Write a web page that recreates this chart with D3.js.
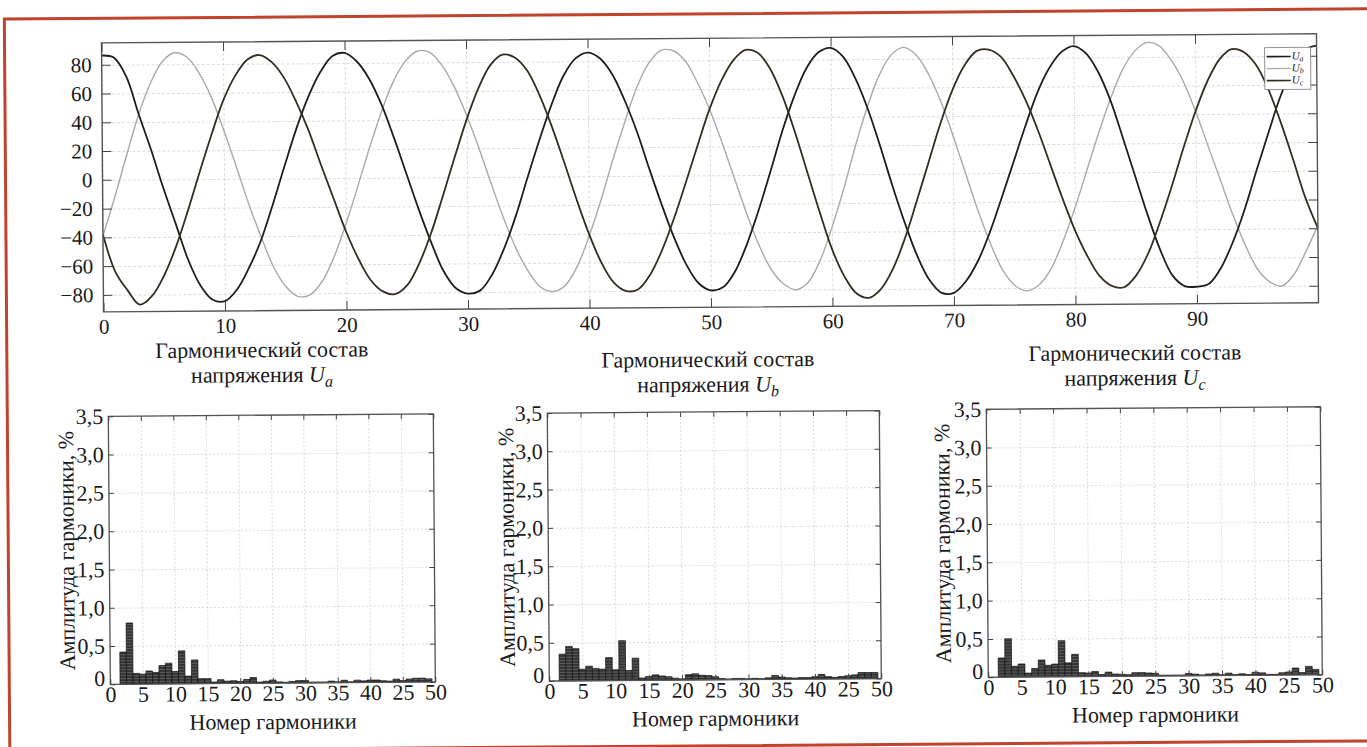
<!DOCTYPE html>
<html>
<head>
<meta charset="utf-8">
<script src="https://cdn.jsdelivr.net/npm/d3@7"></script>
<style>
body{margin:0;background:#fff}
svg{display:block}
svg text{font-family:"Liberation Serif","Tinos","DejaVu Serif","Noto Serif",serif}
</style>
</head>
<body>
<svg id="screen" width="1367" height="747"></svg>
<script>
// waveforms, one sample per unit of time (index = time 0..100)
const uA = [86.5,85,72,46,21,-6,-31,-56,-74,-84,-85,-77,-62,-43,-18,9,35,57,74,85,87,81,69,51,28,3,-22,-45,-65,-77,-81,-79,-68,-50,-27,0,26,50,70,82,86,82,71,53,31,5,-20,-43,-62,-75,-80,-78,-67,-48,-24,3,31,55,74,85,88,82,67,46,20,-8,-34,-57,-74,-83,-83,-75,-61,-41,-17,8,33,56,73,84,88,83,70,50,24,-3,-30,-54,-72,-79.5,-80,-78,-67,-49,-26,1,27,52,71,84,87]
const uB = [-39,-12,17,45,67,82,88,85,74,57,34,9,-17,-40,-61,-75,-82,-81,-72,-55,-32,-6,21,46,67,81,88,87,78,63,43,20,-5,-29,-50,-66,-77,-80,-76,-63,-42,-17,11,37,61,78,87,87,80,65,46,23,-2,-27,-49,-66,-76,-80,-75,-60,-37,-10,20,47,69,83,88,83,70,51,27,1,-25,-48,-67,-78,-82,-78,-67,-48,-25,1,27,51,71,84,90,88,78,63,42,18,-6,-30,-51,-68,-77,-80,-72,-56,-38]
const uC = [-38,-64,-77,-87,-81,-67,-47,-22,5,31,55,72,83,86,81,70,53,33,9,-14,-37,-56,-71,-79,-81,-75,-60,-39,-13,14,40,62,78,85,83,74,57,35,10,-16,-40,-60,-74,-80,-79,-69,-52,-30,-5,21,46,66,80,87,85,74,55,30,2,-26,-52,-71,-83,-86,-80,-66,-45,-19,8,35,58,75,85,86,81,68,51,30,6,-18,-40,-58,-72,-79,-80,-72,-57,-35,-10,17,42,63,78,85,83,74,57,34,8,-19,-40]
const seriesNames = ["a","b","c"]
const seriesColors = ["#1e1e1e","#a9a9a9","#342e20"]

const topXTicks = [0,10,20,30,40,50,60,70,80,90]
const topYTicks = [-80,-60,-40,-20,0,20,40,60,80]

// harmonic amplitudes, %, harmonics 1..50 (index + 1)
const harmA = [0,0.42,0.80,0.14,0.13,0.17,0.15,0.24,0.27,0.16,0.43,0.10,0.31,0.065,0.065,0.02,0.05,0.03,0.035,0.025,0.05,0.075,0.015,0.025,0.04,0.015,0.01,0.02,0.03,0.03,0.01,0.01,0.01,0.02,0.01,0.03,0.01,0.03,0.02,0.03,0.03,0.02,0.015,0.04,0.02,0.04,0.05,0.05,0.04,0]
const harmB = [0,0.35,0.45,0.42,0.15,0.19,0.16,0.15,0.30,0.14,0.52,0.13,0.29,0.03,0.05,0.07,0.055,0.045,0.025,0.015,0.07,0.08,0.06,0.055,0.04,0.015,0.01,0.015,0.015,0.01,0.015,0.01,0.02,0.05,0.03,0.02,0.015,0.02,0.02,0.03,0.06,0.03,0.02,0.03,0.04,0.05,0.08,0.08,0.08,0]
const harmC = [0,0.25,0.50,0.14,0.17,0.05,0.11,0.22,0.15,0.165,0.47,0.18,0.29,0.05,0.045,0.065,0.025,0.055,0.03,0.025,0.02,0.045,0.045,0.04,0.035,0.01,0.01,0.01,0.01,0.03,0.02,0.01,0.02,0.03,0.01,0.03,0.01,0.02,0.01,0.04,0.03,0.01,0.01,0.03,0.04,0.09,0.03,0.11,0.07,0]

const harmXTicks = [0,5,10,15,20,25,30,35,40,45,50]
const harmXLabels = ["0","5","10","15","20","25","30","35","40","25","50"]
const harmYTicks = [0,0.5,1,1.5,2,2.5,3,3.5]
const harmYLabels = ["0","0,5","1,0","1,5","2,0","2,5","3,0","3,5"]

const svg = d3.select("#screen")
// the scanned page is slightly tilted
const root = svg.append("g").attr("transform","rotate(-0.43,684,374)")

const defs = svg.append("defs")
const pat = defs.append("pattern").attr("id","barfill").attr("patternUnits","userSpaceOnUse").attr("width",4).attr("height",3)
pat.append("rect").attr("width",4).attr("height",3).attr("fill","#333")
pat.append("line").attr("x1",0).attr("x2",4).attr("y1",2.5).attr("y2",2.5).attr("stroke","#7a7a7a").attr("stroke-width",0.6)

root.append("rect").attr("x",7).attr("y",14).attr("width",1385).attr("height",732)
    .attr("fill","none").attr("stroke","#c0432e").attr("stroke-width",3)

function styleGrid(g, dash){
    g.select(".domain").remove()
    g.selectAll("line").attr("stroke","#d2d2d2").attr("stroke-width",0.8).attr("stroke-dasharray",dash)
}
function styleAxis(g, size){
    g.attr("font-family",null)
    g.select(".domain").remove()
    g.selectAll("line").attr("stroke","#444").attr("stroke-width",1)
    g.selectAll("text").attr("font-size",size).attr("fill","#1a1a1a")
}

//---------------- top: phase voltages ----------------
const T = {left:104, right:1319, top:38.5, bottom:307.5}
const xT = d3.scaleLinear().domain([0,100]).range([T.left,T.right])
const yT = d3.scaleLinear().domain([-91.8,95.3]).range([T.bottom,T.top])
const topG = root.append("g")

topG.append("g").attr("transform",`translate(0,${T.bottom})`)
    .call(d3.axisBottom(xT).tickValues(topXTicks).tickSize(-(T.bottom-T.top)).tickFormat(""))
    .call(g=>styleGrid(g,"3,2"))
topG.append("g").attr("transform",`translate(${T.left},0)`)
    .call(d3.axisLeft(yT).tickValues(topYTicks).tickSize(-(T.right-T.left)).tickFormat(""))
    .call(g=>styleGrid(g,"3,2"))

defs.append("clipPath").attr("id","clipTop").append("rect")
    .attr("x",T.left).attr("y",T.top).attr("width",T.right-T.left).attr("height",T.bottom-T.top)

const line = d3.line().x((d,i)=>xT(i)).y(d=>yT(d)).curve(d3.curveCatmullRom)
const waves = [uA,uB,uC]
topG.append("g").attr("clip-path","url(#clipTop)")
    .selectAll("path").data([1,0,2]).join("path")
    .attr("d",k=>line(waves[k]))
    .attr("fill","none")
    .attr("stroke",k=>seriesColors[k])
    .attr("stroke-width",k=>k==1?1.4:1.8)

topG.append("rect").attr("x",T.left).attr("y",T.top).attr("width",T.right-T.left).attr("height",T.bottom-T.top)
    .attr("fill","none").attr("stroke","#555").attr("stroke-width",1.4)

topG.append("g").attr("transform",`translate(${T.left},0)`)
    .call(d3.axisLeft(yT).tickValues(topYTicks).tickSizeInner(-9).tickSizeOuter(0).tickPadding(10))
    .call(g=>styleAxis(g,21))
topG.append("g").attr("transform",`translate(${T.right},0)`)
    .call(d3.axisRight(yT).tickValues(topYTicks).tickSizeInner(-9).tickSizeOuter(0).tickFormat(""))
    .call(g=>styleAxis(g,21))
topG.append("g").attr("transform",`translate(0,${T.bottom})`)
    .call(d3.axisBottom(xT).tickValues(topXTicks).tickSizeInner(-9).tickSizeOuter(0).tickPadding(7))
    .call(g=>styleAxis(g,21))
topG.append("g").attr("transform",`translate(0,${T.top})`)
    .call(d3.axisTop(xT).tickValues(topXTicks).tickSizeInner(-9).tickSizeOuter(0).tickFormat(""))
    .call(g=>styleAxis(g,21))

// legend
const leg = topG.append("g").attr("transform","translate(1267,52)")
leg.append("rect").attr("width",46).attr("height",42).attr("fill","#fff").attr("stroke","#777").attr("stroke-width",0.8)
const legRow = leg.selectAll("g").data(seriesNames).join("g").attr("transform",(d,i)=>`translate(0,${9+i*12})`)
legRow.append("line").attr("x1",2).attr("x2",26).attr("stroke",(d,i)=>seriesColors[i]).attr("stroke-width",(d,i)=>i==1?1.2:1.6)
const legTxt = legRow.append("text").attr("x",27).attr("y",3).attr("font-size",11).attr("font-style","italic").attr("fill","#222")
legTxt.append("tspan").text("U")
legTxt.append("tspan").attr("dy",2).attr("font-size",8).text(d=>d)

//---------------- bottom: harmonic spectra ----------------
const panels = [
    {data:harmA, sub:"a", left:108, right:433, top:412, bottom:680, tx:262, ty:354, ylx:65},
    {data:harmB, sub:"b", left:547, right:879, top:412, bottom:680, tx:708, ty:367, ylx:505},
    {data:harmC, sub:"c", left:986, right:1320, top:411.5, bottom:679.5, tx:1135, ty:363.5, ylx:941}
]

panels.forEach(function(p, n){
    const g = root.append("g")
    const x = d3.scaleLinear().domain([0,50]).range([p.left,p.right])
    const y = d3.scaleLinear().domain([0,3.5]).range([p.bottom,p.top])

    g.append("g").attr("transform",`translate(0,${p.bottom})`)
        .call(d3.axisBottom(x).tickValues(harmXTicks).tickSize(-(p.bottom-p.top)).tickFormat(""))
        .call(gg=>styleGrid(gg,"2,2"))
    g.append("g").attr("transform",`translate(${p.left},0)`)
        .call(d3.axisLeft(y).tickValues(harmYTicks).tickSize(-(p.right-p.left)).tickFormat(""))
        .call(gg=>styleGrid(gg,"2,2"))

    g.append("g").selectAll("rect").data(p.data).join("rect")
        .attr("x",(d,i)=>x(i+0.5))
        .attr("width",(d,i)=>x(i+1.5)-x(i+0.5))
        .attr("y",d=>y(d))
        .attr("height",d=>y(0)-y(d))
        .attr("fill","url(#barfill)")
        .attr("stroke","#111").attr("stroke-width",0.7)

    g.append("rect").attr("x",p.left).attr("y",p.top).attr("width",p.right-p.left).attr("height",p.bottom-p.top)
        .attr("fill","none").attr("stroke","#555").attr("stroke-width",1.3)

    g.append("g").attr("transform",`translate(${p.left},0)`)
        .call(d3.axisLeft(y).tickValues(harmYTicks).tickFormat((d,i)=>harmYLabels[i]).tickSizeInner(-5).tickSizeOuter(0).tickPadding(5))
        .call(gg=>styleAxis(gg,22))
        .call(gg=>gg.selectAll("text").filter(d=>d===0).attr("dy","0.05em"))
    g.append("g").attr("transform",`translate(${p.right},0)`)
        .call(d3.axisRight(y).tickValues(harmYTicks).tickSizeInner(-5).tickSizeOuter(0).tickFormat(""))
        .call(gg=>styleAxis(gg,22))
    g.append("g").attr("transform",`translate(0,${p.bottom})`)
        .call(d3.axisBottom(x).tickValues(harmXTicks).tickFormat((d,i)=>harmXLabels[i]).tickSizeInner(-5).tickSizeOuter(0).tickPadding(2))
        .call(gg=>styleAxis(gg,22))
    g.append("g").attr("transform",`translate(0,${p.top})`)
        .call(d3.axisTop(x).tickValues(harmXTicks).tickSizeInner(-5).tickSizeOuter(0).tickFormat(""))
        .call(gg=>styleAxis(gg,22))

    // titles
    const t = g.append("text").attr("text-anchor","middle").attr("font-size",22).attr("fill","#1a1a1a")
    t.append("tspan").attr("x",p.tx).attr("y",p.ty).text("Гармонический состав")
    t.append("tspan").attr("x",p.tx).attr("y",p.ty+25).text("напряжения ")
    t.append("tspan").attr("font-style","italic").text("U")
    t.append("tspan").attr("font-style","italic").attr("font-size",16).attr("dy",5).text(p.sub)

    g.append("text").attr("x",(p.left+p.right)/2).attr("y",p.bottom+46)
        .attr("text-anchor","middle").attr("font-size",22).attr("fill","#1a1a1a")
        .text("Номер гармоники")
    g.append("text").attr("transform",`translate(${p.ylx},${(p.top+p.bottom)/2}) rotate(-90)`)
        .attr("text-anchor","middle").attr("dy","0.35em").attr("font-size",22).attr("fill","#1a1a1a")
        .text("Амплитуда гармоники, %")
})
</script>
</body>
</html>
